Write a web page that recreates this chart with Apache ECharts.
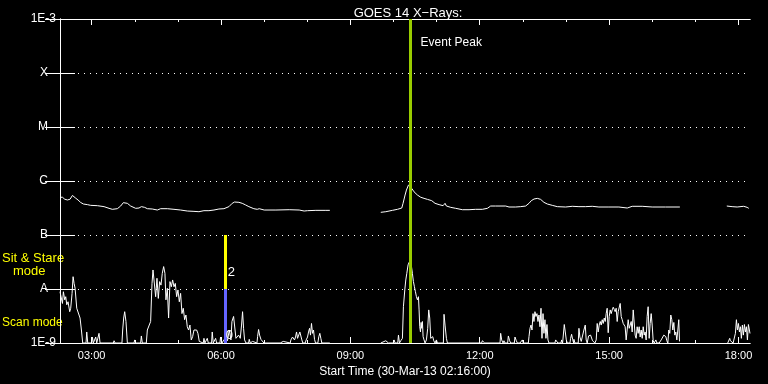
<!DOCTYPE html>
<html>
<head>
<meta charset="utf-8">
<script src="https://cdn.jsdelivr.net/npm/echarts@6/dist/echarts.min.js"></script>
<style>
html,body{margin:0;padding:0;background:#000;}
#chart{width:768px;height:384px;}
</style>
</head>
<body>
<div id="chart"></div>
<script>
// ---- time axis: minutes after the start time 02:16 (30-Mar-13) ----
const startLabel = 'Start Time (30-Mar-13 02:16:00)';
const startMinuteOfDay = 2 * 60 + 16;
const spanMinutes = 960;
const hourTicks = [44,104,164,224,284,344,404,464,524,584,644,704,764,824,884,944];
const majorTicks = [44,224,404,584,764,944];
const yLabelNames = {'-9':'1E-9','-8':'A','-7':'B','-6':'C','-5':'M','-4':'X','-3':'1E-3'};

// ---- GOES 14 long channel (1-8 A), W/m^2 ----
const longMin = [
0,3.4,6.6,10.3,14,17.3,19.6,21.9,25.1,28.8,32.5,38.1,42.7,52,61.3,68.2,72.8,79.8,84.4,88.1,
90.5,93.7,98.3,105.3,109.9,113.2,115.5,117.8,121.5,128.4,135.4,140,149.3,158.6,167.8,177.1,186.4,193.3,200.3,207.2,
214.2,221.1,228.1,235,239.6,242.9,248.9,253.5,258.2,262.8,269.7,274.4,277.2,284.1,300.4,318.9,332.8,339.7,344.4,356,
369.9,375.4,410,
446.3,453.3,462.5,469.5,475.5,477.3,480.1,482,484.8,486.6,489.4,492.6,497.3,501.9,506.5,511.2,513.5,517.2,521.8,527.4,
533,535.7,537.6,543.6,550.5,559.8,569.1,578.3,587.6,594.6,599.2,606.1,610.8,620.1,624.7,634,640.9,647.9,652.5,655.7,
659.5,664.1,668.7,673.3,678,684.9,691.9,703.5,712.7,722,724.3,731.3,740.5,749.8,763.7,777.6,789.2,796.1,810,823.9,
842.5,862.4,895,
927.7,935.1,942.1,951.3,956,958.3];
const longFlux = [
5.0e-7,5.0e-7,4.6e-7,4.45e-7,4.6e-7,5.4e-7,5.1e-7,4.8e-7,4.45e-7,4.0e-7,3.75e-7,3.65e-7,3.54e-7,3.49e-7,3.35e-7,3.12e-7,2.99e-7,3.07e-7,3.44e-7,3.97e-7,
4.32e-7,3.86e-7,3.44e-7,3.12e-7,3.16e-7,3.35e-7,3.44e-7,3.25e-7,3.07e-7,3.03e-7,2.9e-7,3.07e-7,3.07e-7,2.99e-7,2.9e-7,2.78e-7,2.74e-7,2.7e-7,2.82e-7,2.82e-7,
2.9e-7,3.03e-7,3.07e-7,3.35e-7,3.86e-7,4.08e-7,4.03e-7,3.86e-7,3.6e-7,3.35e-7,3.07e-7,2.99e-7,3.07e-7,2.9e-7,2.9e-7,2.94e-7,2.9e-7,2.78e-7,2.82e-7,2.86e-7,
2.86e-7,2.86e-7,null,
2.63e-7,2.7e-7,2.86e-7,2.99e-7,3.16e-7,3.86e-7,5.5e-7,6.8e-7,8.4e-7,8.4e-7,7.3e-7,6.3e-7,5.5e-7,5.0e-7,4.77e-7,4.57e-7,4.84e-7,4.32e-7,3.86e-7,3.65e-7,
3.49e-7,3.86e-7,3.44e-7,3.25e-7,3.12e-7,2.94e-7,2.94e-7,2.99e-7,2.99e-7,3.12e-7,3.44e-7,3.44e-7,3.44e-7,3.44e-7,3.3e-7,3.3e-7,3.35e-7,3.44e-7,3.86e-7,4.32e-7,
4.64e-7,4.77e-7,4.57e-7,4.03e-7,3.75e-7,3.54e-7,3.35e-7,3.3e-7,3.4e-7,3.35e-7,3.54e-7,3.35e-7,3.4e-7,3.3e-7,3.3e-7,3.3e-7,3.16e-7,3.4e-7,3.4e-7,3.3e-7,
3.3e-7,3.3e-7,null,
3.44e-7,3.35e-7,3.3e-7,3.4e-7,3.25e-7,3.12e-7];

// ---- GOES 14 short channel (0.5-4 A), W/m^2 ----
const shortMin = [
0,2,3.4,4.7,6.6,8,9.4,11.2,13.5,14.9,16.8,18.2,19.6,21,23.3,25.6,27.9,29.8,31.6,36.2,
37.2,38.6,44.1,45,46.4,49.7,51.1,54.3,55.7,74.2,75.2,76.6,86.2,87.2,88.6,90,91.8,93.7,103,103.9,
105.3,112.2,113.2,114.5,120.1,121.5,123.8,126.1,128,129.4,131.2,133.1,134.9,136.8,138.6,140.5,142.3,144.2,146,147.4,
149.3,151.1,153,154.9,156.7,158.6,160.4,162.3,164.1,166,167.8,169.7,171.5,173.4,175.2,177.1,178.9,180.8,182.6,184.5,
186.4,188.2,190.1,191.9,193.8,195.6,199.3,200.3,201.6,204,204.9,206.3,210.9,211.8,213.2,215.5,216.5,217.9,222.5,223.4,
225.3,228,231,233,
235.5,237.8,239.2,241.5,242.9,244.8,246.6,248.5,250.8,252.6,254,255.4,256.8,258.7,262.4,263.3,264.7,267,267.9,269.3,
274,274.9,276.3,277.7,279.5,281.8,283.7,306.4,307.3,308.7,309.6,310.6,312,320.3,321.2,323.5,324.9,326.3,327.7,329.1,
330.5,332.3,333.7,335.1,336.5,337.9,341.1,342.5,344.4,345.8,347.2,348.5,349.9,351.3,352.7,354.1,355.5,358.7,360.1,361.5,
362.9,364.3,375.4,410,
446.3,453.3,455.1,457,463.9,464.8,466.2,469.9,470.9,472.3,474.1,476.4,
477.8,479.7,481.1,482.5,484.3,485.7,487.6,489,490.3,491.7,493.1,494.5,495.9,497.3,498.7,499.6,500.5,501.5,502.4,503.3,
504.2,505.2,506.5,507.9,509.8,511.6,513,514.4,515.8,517.2,518.6,520,521.8,522.8,523.7,525.1,533.4,534.3,535.7,537.6,
539,586.7,587.6,589.5,590.9,612.2,613.1,614.5,616.4,617.7,619.1,622.8,623.8,625.6,627,632.1,633,634.9,636.3,640,
640.9,643.2,644.6,651.6,652.5,653.9,655.3,656.7,658.1,659.4,660.8,662.2,663.6,665,666.4,667.8,669.2,670.6,672,673.3,
674.7,676.1,677.5,678.9,680.3,688.6,689.6,691.4,692.8,697,697.9,699.3,700.7,701.6,703,704.4,705.8,709.5,710.4,711.8,
713.2,714.6,
715,716.4,721,722,723.3,725.2,727.5,728.9,730.8,732.1,733.5,735.4,736.8,738.2,739.6,740.9,742.8,744.2,746,747.4,
748.8,750.2,751.6,753,754.4,755.8,757.2,758.6,759.9,761.3,762.7,764.1,765.5,766.9,768.3,769.7,771.1,772.4,773.8,775.2,
776.6,778,779.4,780.8,782.2,783.6,785,786.3,787.7,789.1,790.5,791.9,793.3,794.7,796.1,797.5,798.9,800.2,801.6,803,
804.4,805.8,807.2,808.6,810,811.4,812.8,814.1,815.5,816.9,818.3,819.7,821.1,822.5,823.9,825.3,826.7,828,829,830.4,
833.6,834.5,836.4,838.2,840.1,841.5,842.9,844.3,845.7,847,848.4,849.8,851.2,852.6,854,855.4,856.8,858.2,859.6,860.9,
861.9,895,
929,931.8,932.7,934.6,936.5,938.8,939.7,941.1,942.5,943.9,945.3,946.7,948,949.4,950.8,952.2,953.6,955,956.4,957.8,
960];
const shortFlux = [
8.9e-9,9.6e-9,5.4e-9,8.9e-9,6.3e-9,7.2e-9,5.1e-9,5.8e-9,3.8e-9,4.4e-9,8.3e-9,1.69e-8,1.27e-8,1.03e-8,4.4e-9,4.1e-9,2.9e-9,1.74e-9,1e-9,1e-9,
1.6e-9,1e-9,1e-9,1.29e-9,1e-9,1.29e-9,1e-9,1.51e-9,1e-9,1e-9,1.1e-9,1e-9,1e-9,1.74e-9,2.9e-9,3.8e-9,2.5e-9,1e-9,1e-9,1.14e-9,
1e-9,1e-9,1.35e-9,1e-9,1e-9,1.74e-9,1.87e-9,2.5e-9,1.27e-8,2.25e-8,2.1e-8,7.2e-9,1.58e-8,6.7e-9,1.37e-8,1.18e-8,1.95e-8,2.6e-8,1.95e-8,6.3e-9,
1.03e-8,2.9e-9,1.37e-8,1.1e-8,1.47e-8,1.1e-8,1.27e-8,7.2e-9,9.6e-9,5.8e-9,8.3e-9,3.5e-9,4.4e-9,2.7e-9,3.3e-9,2.0e-9,1.74e-9,2.15e-9,1.14e-9,1.31e-9,
1.74e-9,1.87e-9,1.74e-9,1.51e-9,1.07e-9,1e-9,1e-9,1.22e-9,1e-9,1e-9,1.22e-9,1e-9,1e-9,1.6e-9,1e-9,1e-9,1.22e-9,1e-9,1e-9,1.29e-9,
1e-9,1e-9,1.3e-9,1.1e-9,
1.74e-9,1.14e-9,2.5e-9,3.1e-9,2.9e-9,1.22e-9,1.14e-9,1.4e-9,1.22e-9,2.15e-9,3.8e-9,1.87e-9,1.14e-9,1e-9,1e-9,1.17e-9,1e-9,1e-9,1.07e-9,1e-9,
1e-9,1.31e-9,1.78e-9,1.4e-9,1.17e-9,1.14e-9,1e-9,1e-9,1.07e-9,1e-9,1e-9,1.07e-9,1e-9,1e-9,1.14e-9,1.29e-9,1.4e-9,1.14e-9,1.29e-9,1.6e-9,
1.22e-9,1.14e-9,1.6e-9,1.51e-9,1.14e-9,1e-9,1e-9,1.14e-9,1.29e-9,1.6e-9,1.87e-9,1.4e-9,2.3e-9,1.51e-9,1.74e-9,1.17e-9,1e-9,1e-9,1.31e-9,1.51e-9,
1.22e-9,1e-9,1e-9,null,
1e-9,1.1e-9,1.17e-9,1e-9,1e-9,1.14e-9,1e-9,1e-9,1.4e-9,1e-9,1.1e-9,1.22e-9,
4.7e-9,9.6e-9,1.47e-8,1.95e-8,2.8e-8,3.1e-8,3.0e-8,2.6e-8,1.95e-8,1.37e-8,1.1e-8,8.9e-9,7.2e-9,6.3e-9,7.2e-9,4.1e-9,2.0e-9,1.6e-9,2.4e-9,1.87e-9,
2.5e-9,1.31e-9,1.14e-9,1e-9,1.14e-9,1.87e-9,4.1e-9,2.9e-9,1.22e-9,1.14e-9,1.31e-9,1.1e-9,1e-9,1e-9,1.14e-9,1e-9,1e-9,3.4e-9,2.15e-9,1.22e-9,
1e-9,1e-9,1.1e-9,1.17e-9,1e-9,1e-9,1.51e-9,1.14e-9,1e-9,1.1e-9,1e-9,1e-9,1.35e-9,1.1e-9,1e-9,1e-9,1.29e-9,1.1e-9,1e-9,1e-9,
1.07e-9,1.14e-9,1e-9,1e-9,1.31e-9,1.87e-9,2.15e-9,1.74e-9,3.5e-9,2.5e-9,3.8e-9,3.1e-9,3.5e-9,2.5e-9,3.3e-9,2.0e-9,4.4e-9,1.22e-9,3.5e-9,1.51e-9,
2.7e-9,1.22e-9,2.2e-9,1.14e-9,1e-9,1e-9,1.14e-9,1.07e-9,1e-9,1e-9,1.14e-9,1e-9,1e-9,2.2e-9,1.6e-9,1.14e-9,1e-9,1e-9,1.22e-9,1.45e-9,
1.17e-9,1e-9,
1.17e-9,1e-9,1e-9,1.87e-9,1.29e-9,1.07e-9,1e-9,1.74e-9,2.15e-9,1.14e-9,1e-9,1.35e-9,1.29e-9,1.4e-9,1.51e-9,1.1e-9,1.14e-9,1e-9,1.14e-9,2.3e-9,
1.6e-9,2.15e-9,2.5e-9,2.15e-9,2.7e-9,2.3e-9,2.9e-9,2.5e-9,3.5e-9,4.4e-9,1.55e-9,3.1e-9,4.1e-9,3.5e-9,4.1e-9,4.6e-9,4.2e-9,3.8e-9,4.4e-9,2.5e-9,
3.8e-9,4.1e-9,5.4e-9,3.1e-9,2.7e-9,2.3e-9,2.5e-9,2.0e-9,1.14e-9,1.22e-9,2.7e-9,1.87e-9,2.15e-9,2.5e-9,1.6e-9,4.1e-9,3.8e-9,1.4e-9,1.22e-9,2.0e-9,
1.51e-9,2.0e-9,1.29e-9,1.74e-9,1.22e-9,2.0e-9,1.4e-9,1.6e-9,1.14e-9,3.1e-9,4.7e-9,1.22e-9,2.3e-9,3.5e-9,2.15e-9,1.1e-9,1e-9,1e-9,1.14e-9,1e-9,
1e-9,1.07e-9,1.14e-9,1.1e-9,1.4e-9,1.45e-9,1.31e-9,1.1e-9,1e-9,1.74e-9,1.51e-9,3.3e-9,2.7e-9,1.74e-9,2.4e-9,1.4e-9,1.6e-9,1.14e-9,1.74e-9,2.7e-9,
1.07e-9,null,
1e-9,1.22e-9,1.1e-9,1.17e-9,1e-9,1e-9,1.51e-9,2.7e-9,1.74e-9,2.3e-9,1.6e-9,2.0e-9,1.22e-9,2.15e-9,1.4e-9,2.2e-9,1.6e-9,2.0e-9,1.14e-9,2.2e-9,
1.5e-9];

// ---- annotations ----
const eventPeakMin = 487;          // 10:23
const eventLabelFlux = 3.7e-4;
const modeSwitchMin = 230;         // 06:06
const sitStareTop = 1e-7, sitStareBottom = 1e-8, scanBottom = 1e-9;
const countLabels = [['2', 2.06e-8], ['0', 1.4e-9]];

const FONT = 'Liberation Sans';
const pairs = (xs, ys) => xs.map((x, i) => [x, ys[i] === null ? '-' : ys[i]]);
const clock = m => {
  const t = startMinuteOfDay + m;
  const h = Math.floor(t / 60) % 24, mm = Math.round(t % 60);
  return String(h).padStart(2, '0') + ':' + String(mm).padStart(2, '0');
};

const chart = echarts.init(document.getElementById('chart'), null, {renderer: 'canvas'});
const baseX = {
  type: 'value', min: 0, max: spanMinutes,
  axisLine: {show: true, lineStyle: {color: '#fff', width: 1}},
  splitLine: {show: false},
  axisLabel: {show: false}
};
const tickX = (pos, vals, len) => Object.assign({}, baseX, {
  position: pos,
  axisTick: {show: true, inside: true, length: len, customValues: vals, lineStyle: {color: '#fff'}}
});
const baseY = {
  type: 'log', logBase: 10, min: 1e-9, max: 1e-3, splitNumber: 6,
  axisLine: {show: true, lineStyle: {color: '#fff', width: 1}},
  axisTick: {show: true, inside: true, length: 15, lineStyle: {color: '#fff'}}
};

chart.setOption({
  animation: false,
  backgroundColor: '#000',
  title: {
    text: 'GOES 14 X\u2212Rays:', left: 403, top: 2, textAlign: 'center',
    textStyle: {color: '#fff', fontSize: 13, fontWeight: 'normal', fontFamily: FONT}
  },
  grid: {left: 60, right: 18, top: 19, bottom: 41, containLabel: false},
  xAxis: [
    Object.assign(tickX('bottom', majorTicks, 6), {
      axisLabel: {show: true, customValues: majorTicks, color: '#fff', fontSize: 11,
        fontFamily: FONT, margin: 7, formatter: v => clock(v)},
      name: startLabel, nameLocation: 'middle', nameGap: 18,
      nameTextStyle: {color: '#fff', fontSize: 12, fontFamily: FONT}
    }),
    tickX('bottom', hourTicks, 3),
    tickX('top', majorTicks, 6),
    tickX('top', hourTicks, 3)
  ],
  yAxis: [
    Object.assign({}, baseY, {
      position: 'left',
      splitLine: {show: true, lineStyle: {color: '#fff', width: 1, type: [1, 5]}},
      axisLabel: {
        show: true, color: '#fff', fontSize: 12, fontFamily: FONT, margin: 4,
        formatter: v => {
          const k = String(Math.round(Math.log10(v)));
          const s = yLabelNames[k] || '';
          return s.length === 1 ? '{l|' + s + '}' : s;
        },
        rich: {l: {color: '#fff', fontSize: 12, fontFamily: FONT, padding: [0, 8, 0, 0]}}
      }
    }),
    Object.assign({}, baseY, {
      position: 'right', splitLine: {show: false}, axisLabel: {show: false}
    })
  ],
  series: [
    {
      name: 'long', type: 'line', xAxisIndex: 0, yAxisIndex: 0,
      data: pairs(longMin, longFlux), showSymbol: false, connectNulls: false,
      lineStyle: {color: '#fff', width: 1}, clip: true, z: 3
    },
    {
      name: 'short', type: 'line', xAxisIndex: 0, yAxisIndex: 0,
      data: pairs(shortMin, shortFlux), showSymbol: false, connectNulls: false,
      lineStyle: {color: '#fff', width: 1}, clip: true, z: 4,
      markLine: {
        silent: true, symbol: ['none', 'none'], animation: false,
        label: {show: false},
        data: [
          [{coord: [eventPeakMin, 1e-9], lineStyle: {color: '#99cc00', width: 3, type: 'solid'}},
           {coord: [eventPeakMin, 1e-3]}],
          [{coord: [modeSwitchMin, sitStareTop], lineStyle: {color: '#ffff00', width: 3, type: 'solid'}},
           {coord: [modeSwitchMin, sitStareBottom]}],
          [{coord: [modeSwitchMin, sitStareBottom], lineStyle: {color: '#6464ff', width: 3, type: 'solid'}},
           {coord: [modeSwitchMin, scanBottom]}]
        ]
      },
      markPoint: {
        silent: true, animation: false,
        symbol: 'circle', symbolSize: 1, itemStyle: {color: 'rgba(0,0,0,0)'},
        data: [
          {coord: [eventPeakMin, eventLabelFlux],
           label: {show: true, position: 'right', distance: 10, formatter: 'Event Peak',
                   color: '#fff', fontSize: 12, fontFamily: FONT}},
          {coord: [modeSwitchMin, countLabels[0][1]],
           label: {show: true, position: 'right', distance: 2, formatter: countLabels[0][0],
                   color: '#fff', fontSize: 13, fontFamily: FONT}},
          {coord: [modeSwitchMin, countLabels[1][1]],
           label: {show: true, position: 'right', distance: 0, formatter: countLabels[1][0],
                   color: '#fff', fontSize: 13, fontFamily: FONT}}
        ]
      }
    }
  ],
  graphic: [
    {type: 'text', left: 2, top: 252, style: {text: 'Sit & Stare', fill: '#ffff00', font: '13px "Liberation Sans"'}},
    {type: 'text', left: 13, top: 265, style: {text: 'mode', fill: '#ffff00', font: '13px "Liberation Sans"'}},
    {type: 'text', left: 2, top: 317, style: {text: 'Scan mode', fill: '#ffff00', font: '12px "Liberation Sans"'}}
  ]
});
</script>
</body>
</html>
